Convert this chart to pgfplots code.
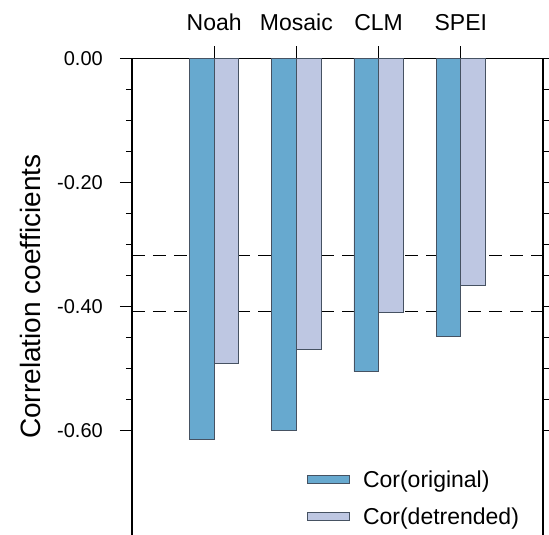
\documentclass[border=0pt]{standalone}
\usepackage{fontspec}
\setmainfont{Liberation Sans}
\usepackage{pgfplots}
\pgfplotsset{compat=1.18}
\definecolor{orig}{RGB}{103,169,207}
\definecolor{detr}{RGB}{190,199,226}
\definecolor{edge}{RGB}{70,82,98}
\begin{document}
\begin{tikzpicture}
\begin{axis}[
  scale only axis, width=411pt, height=476.5pt,
  xmin=0, xmax=5, ymin=-0.7685, ymax=0,
  axis x line*=top, axis y line*=box,
  axis line style={line width=1.2pt, black},
  xtick={1,2,3,4}, xticklabels={Noah,Mosaic,CLM,SPEI},
  ytick={0,-0.2,-0.4,-0.6}, yticklabels={0.00,-0.20,-0.40,-0.60},
  minor y tick num=3,
  tick align=outside,
  major tick length=12pt, minor tick length=6pt,
  tick style={black, line width=1pt},
  xticklabel style={font=\fontsize{23}{27}\selectfont, anchor=base, inner sep=0pt, yshift=15.5pt},
  yticklabel style={font=\fontsize{20}{24}\selectfont, anchor=east, inner sep=0pt, xshift=-17pt},
  ylabel={Correlation coefficients},
  ylabel style={at={(axis description cs:-0.248,0.5)}, anchor=center, font=\fontsize{28}{32}\selectfont},
  legend style={draw=none, fill=none, inner sep=0pt, row sep=15.7pt,
    at={(axis description cs:0.4258,0.1347)}, anchor=north west,
    font=\fontsize{23}{27}\selectfont,
    nodes={inner sep=0pt, text height=16.5pt, text depth=4.8pt},
    cells={anchor=base west}},
]
\addplot[forget plot, black, line width=1pt, dash pattern=on 13pt off 8pt] coordinates {(0,-0.318) (5,-0.318)};
\addplot[forget plot, black, line width=1pt, dash pattern=on 13pt off 8pt] coordinates {(0,-0.408) (5,-0.408)};
\addplot[ybar, bar width=0.3, bar shift=-0.15, fill=orig, draw=edge, line width=0.8pt,
  legend image code/.code={\draw[fill=orig, draw=edge, line width=0.8pt] (0pt,3.7pt) rectangle (42pt,11.7pt); \path (55pt,0pt);}]
  coordinates {(1,-0.614) (2,-0.600) (3,-0.505) (4,-0.449)};
\addlegendentry{Cor(original)}
\addplot[ybar, bar width=0.3, bar shift=0.15, fill=detr, draw=edge, line width=0.8pt,
  legend image code/.code={\draw[fill=detr, draw=edge, line width=0.8pt] (0pt,3.7pt) rectangle (42pt,11.7pt); \path (55pt,0pt);}]
  coordinates {(1,-0.492) (2,-0.469) (3,-0.409) (4,-0.366)};
\addlegendentry{Cor(detrended)}
\end{axis}
\pgfresetboundingbox
\path[use as bounding box] (-132pt,0pt) rectangle (417pt,535pt);
\end{tikzpicture}
\end{document}
